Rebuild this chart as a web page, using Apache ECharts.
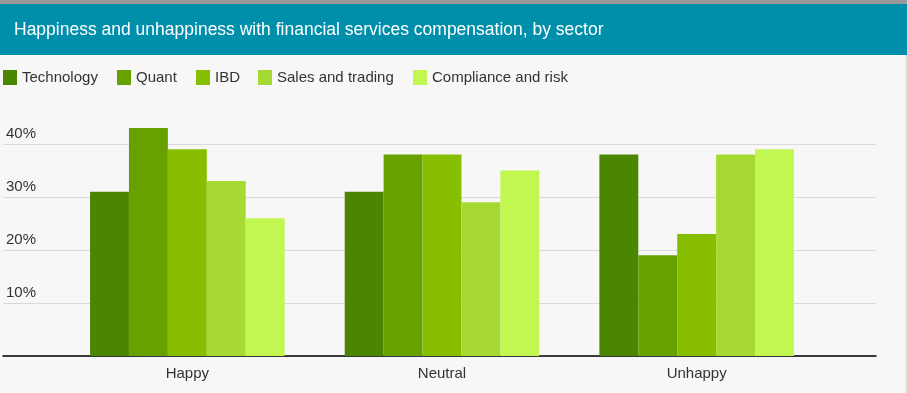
<!DOCTYPE html>
<html><head><meta charset="utf-8">
<script src="https://cdn.jsdelivr.net/npm/echarts@6/dist/echarts.min.js"></script>
<style>html,body{margin:0;padding:0;background:#f7f7f7}#c{width:907px;height:393px}</style>
</head><body><div id="c"></div>
<script>
const titleText = 'Happiness and unhappiness with financial services compensation, by sector';
const categories = ['Happy', 'Neutral', 'Unhappy'];
const seriesNames = ['Technology', 'Quant', 'IBD', 'Sales and trading', 'Compliance and risk'];
const technology = [31, 31, 38];
const quant = [43, 38, 19];
const ibd = [39, 38, 23];
const salesTrading = [33, 29, 38];
const complianceRisk = [26, 35, 39];
const yTicks = [0, 10, 20, 30, 40];

const colors = ['#4b8600', '#67a100', '#88be00', '#a6da32', '#c2f650'];
const values = [technology, quant, ibd, salesTrading, complianceRisk];
const legendLeft = [3, 117, 196, 258, 413];

const chart = echarts.init(document.getElementById('c'), null, {renderer: 'canvas'});
const font = '"Liberation Sans", Arial, sans-serif';
const option = {
  backgroundColor: '#f7f7f7',
  animation: false,
  textStyle: {fontFamily: font},
  title: {
    text: titleText, left: 14, top: 21, padding: 0,
    textStyle: {color: '#ffffff', fontSize: 17.5, fontWeight: 'normal', fontFamily: font}
  },
  graphic: [
    {type: 'rect', z: -1, shape: {x: 0, y: 0, width: 907, height: 4}, style: {fill: '#9a9a9a'}},
    {type: 'rect', z: -1, shape: {x: 0, y: 4, width: 907, height: 51}, style: {fill: '#008fab'}},
    {type: 'rect', z: -1, shape: {x: 905, y: 55, width: 2, height: 338}, style: {fill: '#e6e6e6'}}
  ],
  legend: seriesNames.map((n, i) => ({
    data: [n], left: legendLeft[i], top: 70, padding: 0, itemWidth: 14, itemHeight: 15,
    icon: 'rect', textStyle: {fontSize: 15, color: '#333', fontFamily: font}
  })),
  grid: [
    {left: 3, right: 31, top: 144, bottom: 37},
    {left: 60, right: 83, top: 144, bottom: 37}
  ],
  xAxis: [
    {type: 'value', gridIndex: 0, min: 0, max: 1, axisLine: {show: true, onZero: false, lineStyle: {color: '#000', width: 1.5}},
     axisTick: {show: false}, axisLabel: {show: false}, splitLine: {show: false}},
    {type: 'category', gridIndex: 1, data: categories, axisLine: {show: false}, axisTick: {show: false},
     axisLabel: {fontSize: 15, color: '#333', margin: 10, fontFamily: font}}
  ],
  yAxis: [
    {type: 'value', gridIndex: 0, min: yTicks[0], max: yTicks[yTicks.length - 1], interval: 10,
     axisLine: {show: false}, axisTick: {show: false},
     splitLine: {lineStyle: {color: '#d9d9d9', width: 1}},
     axisLabel: {inside: true, margin: 3, showMinLabel: false, align: 'left', verticalAlign: 'bottom',
       padding: [0, 0, 3, 0], fontSize: 15, color: '#333', fontFamily: font, formatter: '{value}%'}},
    {type: 'value', gridIndex: 1, min: yTicks[0], max: yTicks[yTicks.length - 1], interval: 10, show: false}
  ],
  series: seriesNames.map((n, i) => ({
    name: n, type: 'bar', xAxisIndex: 1, yAxisIndex: 1, data: values[i],
    itemStyle: {color: colors[i]}, barGap: '0%', barCategoryGap: '23.6%', clip: false
  }))
};
chart.setOption(option);
</script></body></html>
